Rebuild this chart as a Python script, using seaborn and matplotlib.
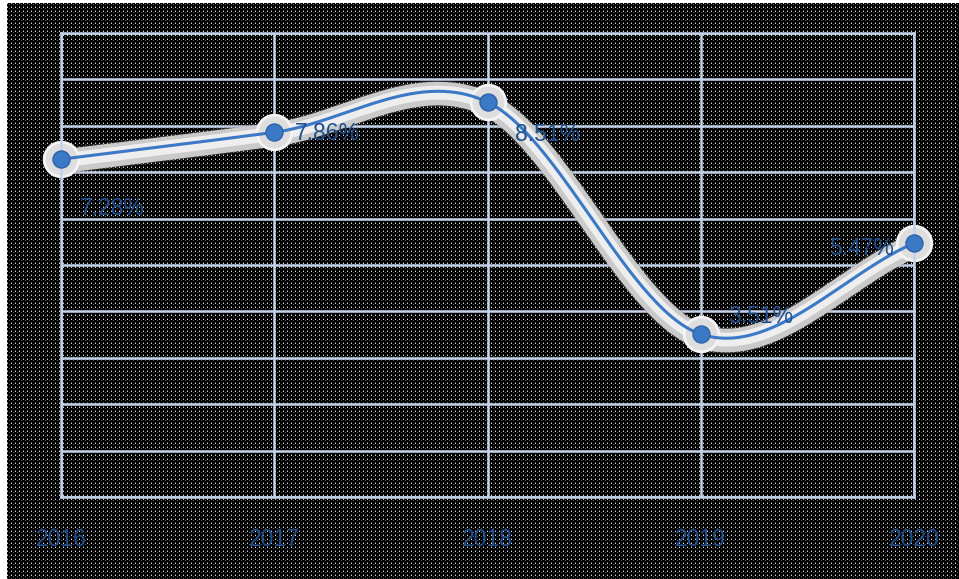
import numpy as np
import pandas as pd
import matplotlib
matplotlib.use("Agg")
import matplotlib.pyplot as plt
import matplotlib.patheffects as pe
import seaborn as sns

# data
years = ["2016", "2017", "2018", "2019", "2020"]
rates = [7.28, 7.86, 8.51, 3.51, 5.47]
rate_labels = ["7.28%", "7.86%", "8.51%", "3.51%", "5.47%"]

# label offsets from each point, in pixels
label_dx = [51, 53, 60, 60, -52]
label_dy = [-49, -1, -32, 18, -5]

BLUE = "#3b78c6"
TEXT = "#1f4f8f"
GRID = "#c5d3ea"


def smooth_curve(xv, yv, n=60):
    # catmull-rom style smoothing, like the "smoothed line" option of office charts
    xv = np.asarray(xv, float)
    yv = np.asarray(yv, float)
    px = np.concatenate([[2 * xv[0] - xv[1]], xv, [2 * xv[-1] - xv[-2]]])
    py = np.concatenate([[2 * yv[0] - yv[1]], yv, [2 * yv[-1] - yv[-2]]])
    outx, outy = [], []
    for i in range(1, len(px) - 2):
        t = np.linspace(0, 1, n)
        h00 = 2 * t**3 - 3 * t**2 + 1
        h10 = t**3 - 2 * t**2 + t
        h01 = -2 * t**3 + 3 * t**2
        h11 = t**3 - t**2
        mx0, mx1 = (px[i + 1] - px[i - 1]) / 2, (px[i + 2] - px[i]) / 2
        my0, my1 = (py[i + 1] - py[i - 1]) / 2, (py[i + 2] - py[i]) / 2
        outx.extend(h00 * px[i] + h10 * mx0 + h01 * px[i + 1] + h11 * mx1)
        outy.extend(h00 * py[i] + h10 * my0 + h01 * py[i + 1] + h11 * my1)
    return np.array(outx), np.array(outy)


sns.set_style("white")
plt.rcParams["font.family"] = ["Liberation Sans", "DejaVu Sans"]

fig = plt.figure(figsize=(9.59, 5.79), dpi=100, facecolor="white")

# dotted dark background
tile = np.array([[0.85, 0.0, 0.0, 0.0],
                 [0.0, 0.0, 0.35, 0.0],
                 [0.0, 0.0, 0.0, 0.0],
                 [0.35, 0.0, 0.0, 0.0]])
pattern = np.tile(tile, (576 // 4, 952 // 4))
fig.figimage(pattern, xo=7, yo=0, cmap="gray", vmin=0, vmax=1, origin="upper", zorder=-5)

ax = fig.add_axes([61 / 959, 1 - 497 / 579, (914 - 61) / 959, (497 - 33) / 579])
ax.set_zorder(2)
ax.patch.set_alpha(0)

df = pd.DataFrame({"pos": np.arange(len(years)), "rate": rates})
sx, sy = smooth_curve(df["pos"], df["rate"])
curve = pd.DataFrame({"pos": sx, "rate": sy})

# soft white glow under the line
ax.plot(curve["pos"], curve["rate"] - 0.05, color="#cacaca", lw=17, solid_capstyle="round", zorder=2,
        clip_on=False, path_effects=[pe.withStroke(linewidth=19, foreground="#8a8a8a", alpha=0.25)])
ax.plot(curve["pos"], curve["rate"] - 0.03, color="#eeeeee", lw=10, solid_capstyle="round",
        zorder=2.1, clip_on=False)
sns.scatterplot(data=df, x="pos", y="rate", s=620, color="#dedede", edgecolor="#f4f4f4",
                linewidth=2, ax=ax, zorder=2.2, legend=False, clip_on=False)

sns.lineplot(data=curve, x="pos", y="rate", sort=False, color=BLUE, lw=2.2, ax=ax, zorder=3,
             clip_on=False)
sns.scatterplot(data=df, x="pos", y="rate", s=150, color=BLUE, edgecolor="#2d62a8",
                linewidth=1, ax=ax, zorder=4, legend=False, clip_on=False)

for i, lab in enumerate(rate_labels):
    ax.annotate(lab, (df["pos"][i], df["rate"][i]), xytext=(label_dx[i], label_dy[i]),
                textcoords="offset pixels", ha="center", va="center",
                fontsize=16.5, color=TEXT, zorder=5)

ax.set_xlim(0, len(years) - 1)
ax.set_ylim(0, 10)
ax.set_xticks(df["pos"])
ax.set_xticklabels(years, fontsize=16.5, color=TEXT)
ax.set_yticks(range(0, 11))
ax.set_yticklabels([])
ax.tick_params(axis="both", length=0)
ax.tick_params(axis="x", pad=22)
ax.grid(True, color=GRID, lw=1.8, zorder=1)
ax.set_axisbelow(True)
for sp in ax.spines.values():
    sp.set_color(GRID)
    sp.set_linewidth(1.8)
ax.set_xlabel("")
ax.set_ylabel("")

fig.savefig("out.png", dpi=100, facecolor="white")
